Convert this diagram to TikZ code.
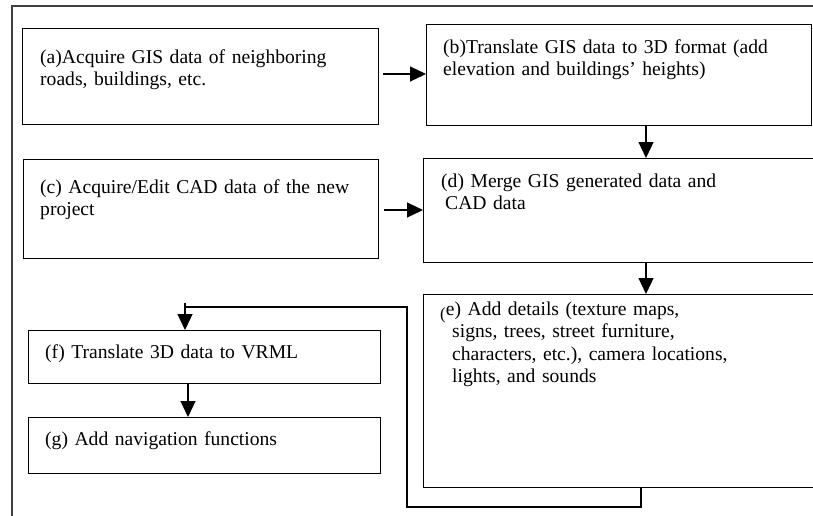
\documentclass[tikz,border=0pt]{standalone}
\usepackage{fontspec}
\setmainfont{Liberation Serif}
\usetikzlibrary{arrows.meta,calc}
\begin{document}
\begin{tikzpicture}[x=1pt,y=-1pt,
  box/.style={draw=black,line width=1.2pt,rectangle,inner sep=0pt,anchor=north west},
  txt/.style={anchor=base west,inner sep=0pt,align=left,text width=390pt,
    font=\fontsize{19.6}{22.5}\selectfont},
  conn/.style={line width=1.2pt},
  arr/.style={conn,-{Triangle[length=16pt,width=15pt]}}]
\clip (0,0) rectangle (813,515);
\fill[white] (0,0) rectangle (813,515);
% outer frame
\draw[line width=1.1pt,black!75] (813,6) -- (12,6) -- (12,520);
% boxes
\node[box,minimum width=356pt,minimum height=96pt] (a) at (22,28) {};
\node[box,minimum width=385pt,minimum height=101pt] (b) at (426,24) {};
\node[box,minimum width=355pt,minimum height=99pt] (c) at (23,159) {};
\node[box,minimum width=400pt,minimum height=104pt] (d) at (423,158) {};
\node[box,minimum width=400pt,minimum height=193pt] (e) at (423,294) {};
\node[box,minimum width=352pt,minimum height=53pt] (f) at (28,330) {};
\node[box,minimum width=352pt,minimum height=56pt] (g) at (28,417) {};
% texts
\node[txt] (ta) at (40,63) {(a)Acquire GIS data of neighboring\\roads, buildings, etc.};
\node[txt] (tb) at (443,53) {(b)Translate GIS data to 3D format (add\\elevation and buildings{\char"27} heights)};
\node[txt] (tc) at (40,193) {(c) Acquire/Edit CAD data of the new\\project};
\node[txt] (td) at (441,187) {(d) Merge GIS generated data and\\\hspace*{4pt}CAD data};
\node[txt] (te) at (440,315) {\raisebox{-4pt}{\fontsize{17}{17}\selectfont(}e) Add details (texture maps,\\
  \hspace*{12pt}signs, trees, street furniture,\\
  \hspace*{12pt}characters, etc.), camera locations,\\
  \hspace*{12pt}lights, and sounds};
\node[txt] (tf) at (45,358) {(f) Translate 3D data to VRML};
\node[txt] (tg) at (45,445) {(g) Add navigation functions};
% connectors
\coordinate (ab) at ($(a.north east)+(4,46)$);
\draw[arr] (ab) -- (ab -| b.west);
\coordinate (cd) at ($(c.north east)+(5,51)$);
\draw[arr] (cd) -- (cd -| d.west);
\coordinate (bd) at ($(b.south west)+(220,0)$);
\draw[arr] (bd) -- (bd |- d.north);
\coordinate (de) at ($(d.south west)+(223,0)$);
\draw[arr] (de) -- (de |- e.north);
\coordinate (fg) at ($(f.south west)+(160,0)$);
\draw[arr] (fg) -- (fg |- g.north);
\coordinate (eo) at ($(e.south west)+(218,0)$);
\coordinate (lp1) at (407,507);
\coordinate (lp2) at (407,307);
\coordinate (ftop) at ($(f.north west)+(157,0)$);
\draw[conn] (eo) -- (eo |- lp1) -- (lp1) -- (lp2) -- (lp2 -| ftop);
\draw[arr] ($(lp2 -| ftop)+(0,-4)$) -- (ftop);
\end{tikzpicture}
\end{document}
